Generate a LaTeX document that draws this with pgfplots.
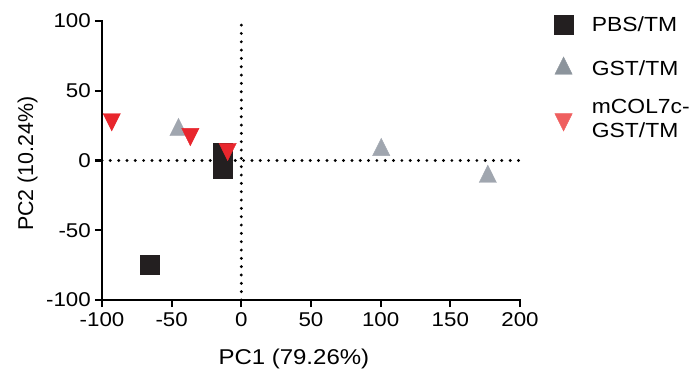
\documentclass[border=0pt]{standalone}
\usepackage{fontspec}
\setmainfont{Liberation Sans}[FakeStretch=1.12]
\newfontfamily\ylabfont{Liberation Sans}
\usepackage{pgfplots}
\pgfplotsset{compat=1.18}
\definecolor{sqc}{HTML}{231F20}
\definecolor{grc}{HTML}{A0A6AF}
\definecolor{rdc}{HTML}{E8262D}
\definecolor{grl}{HTML}{8C949C}
\definecolor{rdl}{HTML}{EF5F5F}
\begin{document}
\begin{tikzpicture}
\useasboundingbox (-102bp,-72bp) rectangle (595bp,300bp);
\begin{axis}[
  at={(0,0)}, anchor=south west,
  scale only axis, width=418bp, height=279bp,
  xmin=-100, xmax=200, ymin=-100, ymax=100,
  axis x line*=bottom, axis y line*=left,
  every outer x axis line/.append style={-},
  every outer y axis line/.append style={-},
  every inner x axis line/.append style={-},
  every inner y axis line/.append style={-},
  axis line style={line width=2.3bp, black, -, line cap=rect},
  xtick={-100,-50,...,200}, ytick={-100,-50,...,100},
  tick align=outside, major tick length=7bp,
  tick style={line width=2.3bp, black},
  minor tick num=0,
  /pgf/number format/assume math mode=true,
  ticklabel style={font=\fontsize{20}{24}\selectfont},
  xticklabel style={inner sep=5bp},
  yticklabel style={inner sep=4bp},
  xlabel={PC1 (79.26\%)},
  ylabel={\ylabfont PC2 (10.24\%)},
  label style={font=\fontsize{21.5}{26}\selectfont},
  xlabel style={at={(axis description cs:0.459,-0.2305)}, anchor=base},
  ylabel style={at={(axis description cs:-0.165,0.489)}, anchor=base},
  clip=false,
  legend style={at={(1,1)}, anchor=north west, xshift=34bp, yshift=6bp,
    draw=none, fill=none, inner sep=0pt,
    font=\fontsize{20.5}{24}\selectfont,
    nodes={inner sep=0pt},
    cells={anchor=west, align=left},
    row sep=23bp,
    /tikz/every odd column/.append style={column sep=19bp}},
]
\addplot[forget plot, black, line width=3.2bp, line cap=round, dash pattern=on 0bp off 8.33bp] coordinates {(-100,0) (200,0)};
\addplot[forget plot, black, line width=3.2bp, line cap=round, dash pattern=on 0bp off 8.33bp] coordinates {(0,-100) (0,100)};
\addplot[forget plot, only marks, mark=square*, mark size=9.35bp, color=sqc] coordinates {(-65.8,-74.8) (-13.2,-6.3) (-13.2,5.4)};
\addplot[forget plot, only marks, mark=triangle*, mark size=10bp, mark options={yscale=1.16}, color=grc] coordinates {(-45.1,21.9) (100.4,7.6) (176.9,-11.6)};
\addplot[forget plot, only marks, mark=triangle*, mark size=10bp, mark options={rotate=180, yscale=1.16}, color=rdc] coordinates {(-93,29.5) (-36.6,18.9) (-9.8,8.2)};
\addlegendimage{only marks, mark=square*, mark size=9.35bp, color=sqc}
\addlegendentry{PBS/TM}
\addlegendimage{only marks, mark=triangle*, mark size=10bp, mark options={yscale=1.16}, color=grl}
\addlegendentry{GST/TM}
\addlegendimage{only marks, mark=triangle*, mark size=10bp, mark options={rotate=180, yscale=1.16}, color=rdl}
\addlegendentry{mCOL7c-\\GST/TM}
\end{axis}
\end{tikzpicture}
\end{document}
